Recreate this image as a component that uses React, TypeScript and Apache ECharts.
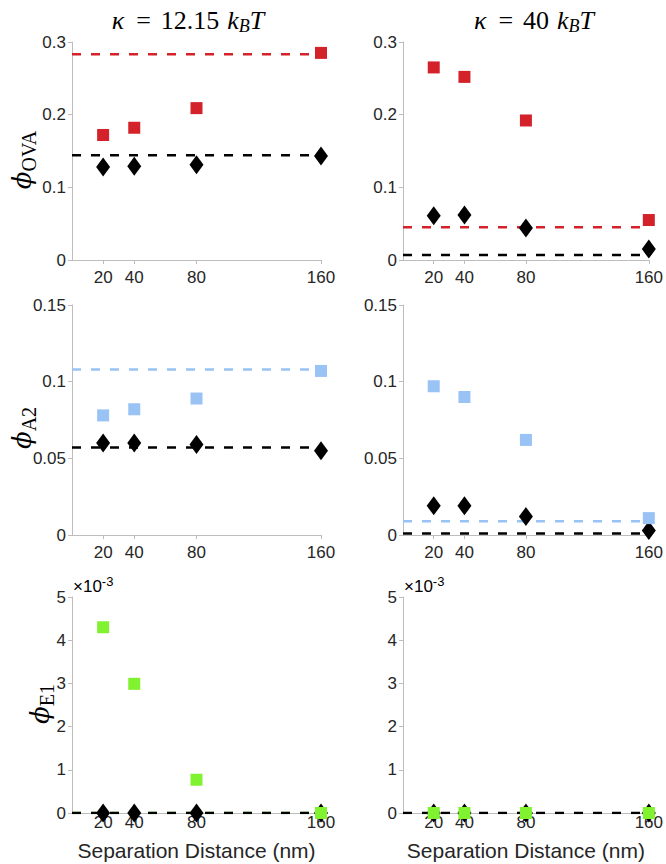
import React, { useEffect, useRef } from "react";
import * as echarts from "echarts";

// ---- data ----
const separations = [20, 40, 80, 160];
const xTickValues = [20, 40, 80, 160];

// kappa = 12.15 kBT
const ova12Red = [0.172, 0.182, 0.209, 0.285];
const ova12Black = [0.128, 0.129, 0.131, 0.143];
const ova12RedRef = 0.283;
const ova12BlackRef = 0.144;

const a2_12Blue = [0.078, 0.082, 0.089, 0.107];
const a2_12Black = [0.060, 0.060, 0.059, 0.055];
const a2_12BlueRef = 0.108;
const a2_12BlackRef = 0.057;

const e1_12Green = [0.0043, 0.00299, 0.00077, 0.0];
const e1_12Black = [0, 0, 0, 0];
const e1_12GreenRef = 0;
const e1_12BlackRef = 0;

// kappa = 40 kBT
const ova40Red = [0.265, 0.252, 0.192, 0.055];
const ova40Black = [0.061, 0.062, 0.044, 0.015];
const ova40RedRef = 0.045;
const ova40BlackRef = 0.007;

const a2_40Blue = [0.097, 0.090, 0.062, 0.011];
const a2_40Black = [0.019, 0.019, 0.012, 0.003];
const a2_40BlueRef = 0.009;
const a2_40BlackRef = 0.001;

const e1_40Green = [0, 0, 0, 0];
const e1_40Black = [0, 0, 0, 0];
const e1_40BlackRef = 0;

const yMaxOVA = 0.3;
const yStepOVA = 0.1;
const yMaxA2 = 0.15;
const yStepA2 = 0.05;
const yMaxE1 = 0.005;
const yStepE1 = 0.001;

// ---- styles ----
const RED = "#d3222a";
const BLUE = "#99c2f5";
const GREEN = "#80f230";
const BLACK = "#000000";
const TEXT = "#262626";
const AXIS = "#bdbdbd";
const SANS = "'Liberation Sans', Arial, Helvetica, sans-serif";
const SERIF = "'Liberation Serif', 'DejaVu Serif', serif";

const grids = [
  { left: 72, top: 42, width: 249, height: 218 },
  { left: 403, top: 42, width: 248, height: 218 },
  { left: 72, top: 305, width: 249, height: 230 },
  { left: 403, top: 305, width: 248, height: 230 },
  { left: 72, top: 597, width: 249, height: 216 },
  { left: 403, top: 597, width: 248, height: 216 },
];

const pts = (ys: number[]) => separations.map((x, i) => [x, ys[i]]);
const flat = (v: number) => [
  [0, v],
  [160, v],
];

function refLine(idx: number, v: number, color: string) {
  return {
    type: "line",
    xAxisIndex: idx,
    yAxisIndex: idx,
    data: flat(v),
    symbol: "none",
    silent: true,
    z: 1,
    lineStyle: { color, width: 2.5, type: [9, 10] },
  };
}
function squares(idx: number, ys: number[], color: string) {
  return {
    type: "scatter",
    xAxisIndex: idx,
    yAxisIndex: idx,
    data: pts(ys),
    symbol: "rect",
    symbolSize: 12,
    clip: false,
    z: 4,
    itemStyle: { color, opacity: 1 },
  };
}
function diamonds(idx: number, ys: number[]) {
  return {
    type: "scatter",
    xAxisIndex: idx,
    yAxisIndex: idx,
    data: pts(ys),
    symbol: "diamond",
    symbolSize: [14, 19],
    clip: false,
    z: 3,
    itemStyle: { color: BLACK, opacity: 1 },
  };
}

export default function App() {
  const ref = useRef<HTMLDivElement>(null);
  useEffect(() => {
    if (!ref.current) return;
    const chart = echarts.init(ref.current, null, { renderer: "svg" });

    const xAxes = grids.map((_, i) => ({
      type: "value",
      gridIndex: i,
      min: 0,
      max: 160,
      axisLine: { show: true, onZero: false, lineStyle: { color: AXIS, width: 1 } },
      axisTick: {
        show: true,
        customValues: xTickValues,
        length: 4,
        lineStyle: { color: AXIS },
      },
      axisLabel: {
        customValues: xTickValues,
        color: TEXT,
        fontFamily: SANS,
        fontSize: 17,
        margin: i >= 4 ? 1 : 9,
      },
      splitLine: { show: false },
      name: i >= 4 ? "Separation Distance (nm)" : "",
      nameLocation: "middle",
      nameGap: 27,
      nameTextStyle: { color: TEXT, fontFamily: SANS, fontSize: 21 },
    }));

    const yAxes = grids.map((_, i) => {
      const row = Math.floor(i / 2);
      const max = row === 0 ? yMaxOVA : row === 1 ? yMaxA2 : yMaxE1;
      const step = row === 0 ? yStepOVA : row === 1 ? yStepA2 : yStepE1;
      return {
        type: "value",
        gridIndex: i,
        min: 0,
        max,
        interval: step,
        axisLine: { show: true, onZero: false, lineStyle: { color: AXIS, width: 1 } },
        axisTick: { show: true, length: 4, lineStyle: { color: AXIS } },
        axisLabel: {
          color: TEXT,
          fontFamily: SANS,
          fontSize: 17,
          margin: 6,
          formatter: (v: number) =>
            row === 2 ? String(Math.round(v * 1000)) : String(Math.round(v * 1000) / 1000),
        },
        splitLine: { show: false },
      };
    });

    const series = [
      // panel 0
      refLine(0, ova12RedRef, RED),
      refLine(0, ova12BlackRef, BLACK),
      diamonds(0, ova12Black),
      squares(0, ova12Red, RED),
      // panel 1
      refLine(1, ova40RedRef, RED),
      refLine(1, ova40BlackRef, BLACK),
      diamonds(1, ova40Black),
      squares(1, ova40Red, RED),
      // panel 2
      refLine(2, a2_12BlueRef, BLUE),
      refLine(2, a2_12BlackRef, BLACK),
      diamonds(2, a2_12Black),
      squares(2, a2_12Blue, BLUE),
      // panel 3
      refLine(3, a2_40BlueRef, BLUE),
      refLine(3, a2_40BlackRef, BLACK),
      diamonds(3, a2_40Black),
      squares(3, a2_40Blue, BLUE),
      // panel 4
      refLine(4, e1_12GreenRef, GREEN),
      refLine(4, e1_12BlackRef, BLACK),
      diamonds(4, e1_12Black),
      squares(4, e1_12Green, GREEN),
      // panel 5
      refLine(5, e1_40BlackRef, BLACK),
      diamonds(5, e1_40Black),
      squares(5, e1_40Green, GREEN),
    ];

    const titleRich = {
      i: { fontFamily: SERIF, fontStyle: "italic", fontSize: 26, color: BLACK },
      r: { fontFamily: SERIF, fontSize: 26, color: BLACK },
      eq: { fontFamily: SERIF, fontSize: 26, color: BLACK, padding: [0, 10, 0, 12] },
      num: { fontFamily: SERIF, fontSize: 26, color: BLACK, padding: [0, 8, 0, 0] },
      s: { fontFamily: SERIF, fontStyle: "italic", fontSize: 18, color: BLACK, padding: [12, 0, 0, 0] },
    };
    const yLabRich = {
      p: { fontFamily: "'DejaVu Serif', serif", fontStyle: "italic", fontSize: 26, color: TEXT },
      s: { fontFamily: SERIF, fontSize: 20, color: TEXT, padding: [14, 0, 0, 0] },
    };
    const expRich = {
      r: { fontFamily: SANS, fontSize: 17, color: TEXT },
      sup: { fontFamily: SANS, fontSize: 13, color: TEXT, padding: [0, 0, 10, 0] },
    };

    const txt = (x: number, y: number, text: string, rich: any, rotation = 0, align = "center") => ({
      type: "text",
      x,
      y,
      rotation,
      silent: true,
      style: {
        text,
        rich,
        textAlign: align,
        verticalAlign: "middle",
        textVerticalAlign: "middle",
      },
    });

    const graphic = [
      txt(188, 20, "{i|κ}{eq|=}{num|12.15}{i|k}{s|B}{i|T}", titleRich),
      txt(534, 20, "{i|κ}{eq|=}{num|40}{i|k}{s|B}{i|T}", titleRich),
      txt(22, 160, "{p|ϕ}{s|OVA}", yLabRich, Math.PI / 2),
      txt(22, 428, "{p|ϕ}{s|A2}", yLabRich, Math.PI / 2),
      txt(40, 704, "{p|ϕ}{s|E1}", yLabRich, Math.PI / 2),
      txt(73, 586, "{r|×10}{sup|-3}", expRich, 0, "left"),
      txt(404, 586, "{r|×10}{sup|-3}", expRich, 0, "left"),
    ];

    chart.setOption({
      animation: false,
      backgroundColor: "#ffffff",
      grid: grids.map((g) => ({ ...g, containLabel: false })),
      xAxis: xAxes,
      yAxis: yAxes,
      series,
      graphic,
    });
    return () => chart.dispose();
  }, []);

  return (
    <div
      ref={ref}
      style={{ position: "absolute", left: 0, top: 0, width: 666, height: 864 }}
    />
  );
}
